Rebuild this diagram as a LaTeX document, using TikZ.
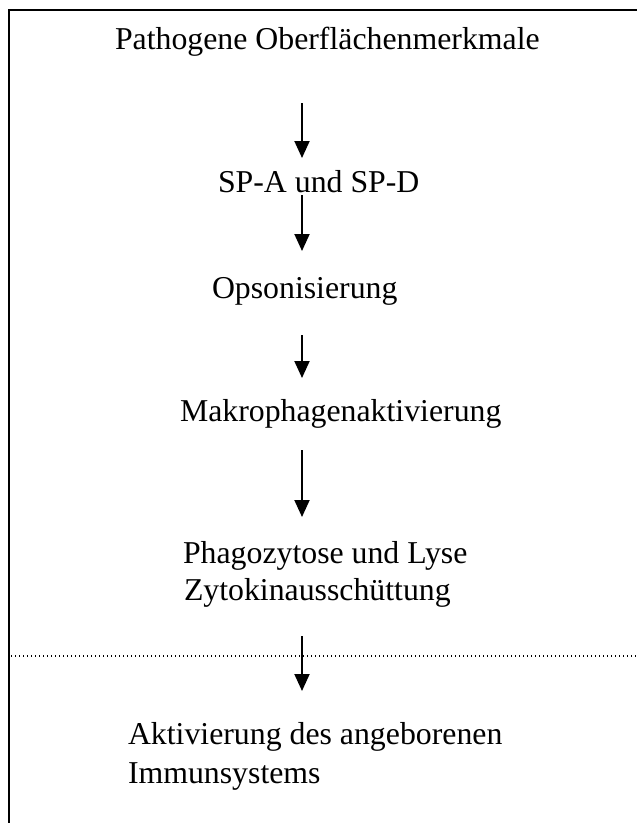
\documentclass[tikz,border=0pt]{standalone}
\usepackage{fontspec}
\setmainfont{Liberation Serif}
\usetikzlibrary{arrows.meta}
\begin{document}
\begin{tikzpicture}[x=1pt,y=-1pt,
  lbl/.style={anchor=base west,inner sep=0pt,outer sep=0pt,font=\fontsize{31.8}{37}\selectfont},
  arr/.style={line width=1.9pt,-{Triangle[width=15pt,length=17pt]}},
  frame/.style={line width=2pt},
  sep/.style={line width=1.2pt,dash pattern=on 1.3pt off 2.7pt}]
\useasboundingbox (0,0) rectangle (637,823);
% frame
\draw[frame] (9,823) -- (9,10) -- (637,10);
% texts
\node[lbl] (t1) at (115,49) {Pathogene Oberflächenmerkmale};
\node[lbl] (t2) at (218,192) {SP-A und SP-D};
\node[lbl] (t3) at (212,298) {Opsonisierung};
\node[lbl] (t4) at (180,421) {Makrophagenaktivierung};
\node[lbl] (t5) at (183,563) {\vtop{\baselineskip=37pt\hbox{Phagozytose und Lyse}\hbox{\hspace{1pt}Zytokinausschüttung}}};
\node[lbl] (t6) at (128,744) {\vtop{\baselineskip=39pt\hbox{Aktivierung des angeborenen}\hbox{Immunsystems}}};
% dotted separator
\coordinate (d1) at (11,656);
\coordinate (d2) at (637,656);
\draw[sep] (d1) -- (d2);
% arrow coordinates
\coordinate (a1s) at (302,103); \coordinate (a1e) at (302,158);
\coordinate (a2s) at (302,195); \coordinate (a2e) at (302,251);
\coordinate (a3s) at (302,335); \coordinate (a3e) at (302,378);
\coordinate (a4s) at (302,450); \coordinate (a4e) at (302,517);
\coordinate (a5s) at (302,636); \coordinate (a5e) at (302,691);
\draw[arr] (a1s) -- (a1e);
\draw[arr] (a2s) -- (a2e);
\draw[arr] (a3s) -- (a3e);
\draw[arr] (a4s) -- (a4e);
\draw[arr] (a5s) -- (a5e);
\end{tikzpicture}
\end{document}
